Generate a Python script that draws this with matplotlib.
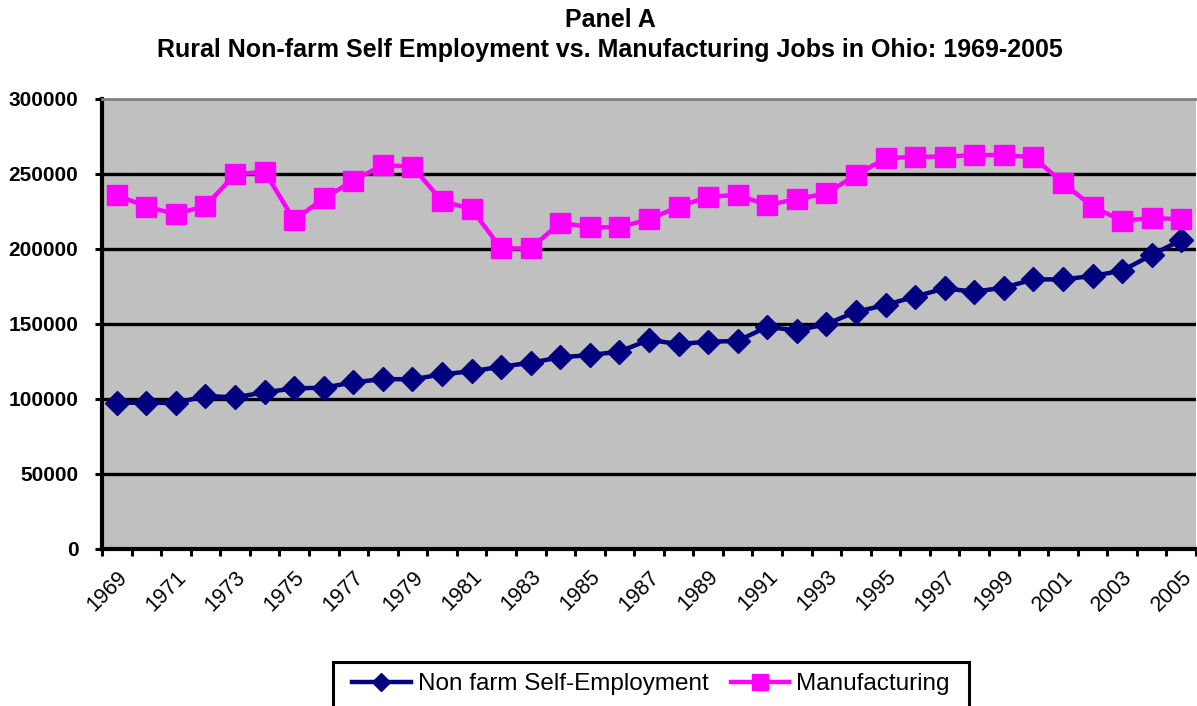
import matplotlib
matplotlib.use('Agg')
import matplotlib.pyplot as plt
from matplotlib.patches import Rectangle
import numpy as np

plt.rcParams['font.family'] = ['Liberation Sans', 'DejaVu Sans']

years = list(range(1969, 2006))

# rural non farm self-employment, Ohio
nonfarm = [97300, 97300, 97100, 101800, 100900, 104200, 106900, 107300, 110900, 113100,
           112900, 116200, 118300, 121300, 124000, 127600, 129100, 131400, 139200, 136500,
           138000, 138500, 148000, 145400, 149800, 158000, 162500, 168100, 173600, 171400,
           174100, 179600, 179600, 181900, 185400, 195900, 205900]

# rural manufacturing jobs, Ohio
manuf = [235900, 228100, 223200, 228600, 249700, 251500, 219200, 233700, 245500, 256000,
         254800, 231900, 226500, 200300, 200300, 217400, 214400, 214400, 219700, 228100,
         234800, 235900, 229200, 233200, 237000, 249300, 260400, 261500, 261500, 262600,
         262600, 261100, 244100, 228100, 218800, 220400, 219900]

yticks = [0, 50000, 100000, 150000, 200000, 250000, 300000]

fig = plt.figure(figsize=(11.97, 7.06), dpi=100)
ax = fig.add_axes([102 / 1197, 1 - 548.5 / 706, 1094 / 1197, 449.5 / 706])
ax.set_facecolor('#C0C0C0')

x = np.arange(len(years))
ax.plot(x, nonfarm, color='#000080', lw=3.2, marker='D', markersize=12,
        label='Non farm Self-Employment', zorder=4)
ax.plot(x, manuf, color='#FF00FF', lw=3.2, marker='s', markersize=15,
        label='Manufacturing', zorder=5)

ax.set_xlim(-0.5, len(years) - 0.5)
ax.set_ylim(0, 300000)

# y axis
ax.set_yticks(yticks)
ax.set_yticklabels([str(v) for v in yticks], fontsize=15, fontweight='bold')
ax.tick_params(axis='y', direction='out', length=5, width=2.2, pad=12)
for v in yticks[1:-1]:
    ax.axhline(v, color='black', lw=2.4, zorder=2)

# x axis: ticks between categories, labels every second year
ax.set_xticks(x[::2])
ax.set_xticklabels([str(y) for y in years[::2]], rotation=45, fontsize=15.5,
                   ha='right', va='top', rotation_mode='anchor')
ax.set_xticks(np.arange(len(years) + 1) - 0.5, minor=True)
ax.tick_params(axis='x', which='major', length=0, pad=13)
ax.tick_params(axis='x', which='minor', direction='out', length=5, width=2.2)

for side in ['left', 'bottom']:
    ax.spines[side].set_linewidth(3)
    ax.spines[side].set_color('black')
ax.spines['top'].set_color('#808080')
ax.spines['top'].set_linewidth(2)
ax.spines['right'].set_visible(False)

fig.text(610 / 1197, 1 - 20 / 706, 'Panel A', ha='center', va='center',
         fontsize=18, fontweight='bold')
fig.text(610 / 1197, 1 - 50 / 706,
         'Rural Non-farm Self Employment vs. Manufacturing Jobs in Ohio: 1969-2005',
         ha='center', va='center', fontsize=18, fontweight='bold')

leg = fig.legend(loc='center', bbox_to_anchor=(651 / 1197, 1 - 684 / 706), ncol=2,
                 frameon=False, fontsize=17.5, handlelength=2.4, handletextpad=0.3,
                 columnspacing=0.9)
for h in leg.legend_handles:
    h.set_markersize(h.get_markersize() * 0.75)
fig.patches.append(Rectangle((333 / 1197, -0.05), (969 - 333) / 1197, 0.05 + 44 / 706,
                             transform=fig.transFigure, fill=False, ec='black', lw=2.2))

fig.savefig('out.png', dpi=100)
